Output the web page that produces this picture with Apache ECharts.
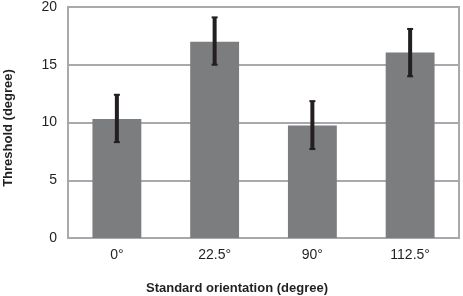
<!DOCTYPE html>
<html>
<head>
<meta charset="utf-8">
<script src="https://cdn.jsdelivr.net/npm/echarts@6/dist/echarts.min.js"></script>
<style>
html, body { margin: 0; padding: 0; background: #fff; }
#main { width: 463px; height: 296px; }
</style>
</head>
<body>
<div id="main"></div>
<script>
var categories = ['0°', '22.5°', '90°', '112.5°'];
var thresholds = [10.3, 17.0, 9.75, 16.05];
var errLow = [8.3, 15.0, 7.7, 14.0];
var errHigh = [12.4, 19.1, 11.85, 18.1];
var xTitle = 'Standard orientation (degree)';
var yTitle = 'Threshold (degree)';

var dom = document.getElementById('main');
var myChart = echarts.init(dom, null, { renderer: 'canvas' });

var errData = categories.map(function (c, i) {
  return [i, errLow[i], errHigh[i]];
});

var option = {
  animation: false,
  textStyle: { fontFamily: 'Liberation Sans, Arial, sans-serif' },
  grid: {
    left: 68, right: 4, top: 5, bottom: 58,
    show: true, borderColor: '#a7a9ac', borderWidth: 2
  },
  graphic: [
    {
      type: 'text', x: 237, y: 288,
      style: {
        text: xTitle, fill: '#231f20', font: 'bold 13px "Liberation Sans", Arial, sans-serif',
        textAlign: 'center', textVerticalAlign: 'middle'
      }
    },
    {
      type: 'text', x: 8, y: 128, rotation: Math.PI / 2,
      style: {
        text: yTitle, fill: '#231f20', font: 'bold 13px "Liberation Sans", Arial, sans-serif',
        textAlign: 'center', textVerticalAlign: 'middle'
      }
    }
  ],
  xAxis: {
    type: 'category',
    data: categories,
    axisLine: { lineStyle: { color: '#a7a9ac', width: 2 } },
    axisTick: { show: false },
    axisLabel: { color: '#231f20', fontSize: 14, margin: 10 }
  },
  yAxis: {
    type: 'value',
    min: 0, max: 20, interval: 5,
    axisLine: { show: true, lineStyle: { color: '#a7a9ac', width: 2 } },
    axisTick: { show: false },
    splitLine: { lineStyle: { color: '#a7a9ac', width: 2 } },
    axisLabel: { color: '#231f20', fontSize: 14, margin: 11 }
  },
  series: [
    {
      type: 'bar',
      data: thresholds,
      barWidth: '50%',
      itemStyle: { color: '#7b7d7f' }
    },
    {
      type: 'custom',
      data: errData,
      z: 10,
      renderItem: function (params, api) {
        var idx = api.value(0);
        var lo = api.coord([idx, api.value(1)]);
        var hi = api.coord([idx, api.value(2)]);
        var x = lo[0];
        return {
          type: 'group',
          children: [
            { type: 'rect', shape: { x: x - 2, y: hi[1], width: 4, height: lo[1] - hi[1] }, style: { fill: '#231f20' } },
            { type: 'rect', shape: { x: x - 3, y: hi[1] - 1, width: 6, height: 2 }, style: { fill: '#231f20' } },
            { type: 'rect', shape: { x: x - 3, y: lo[1] - 1, width: 6, height: 2 }, style: { fill: '#231f20' } }
          ]
        };
      }
    }
  ]
};

myChart.setOption(option);
window.addEventListener('resize', myChart.resize);
</script>
</body>
</html>
